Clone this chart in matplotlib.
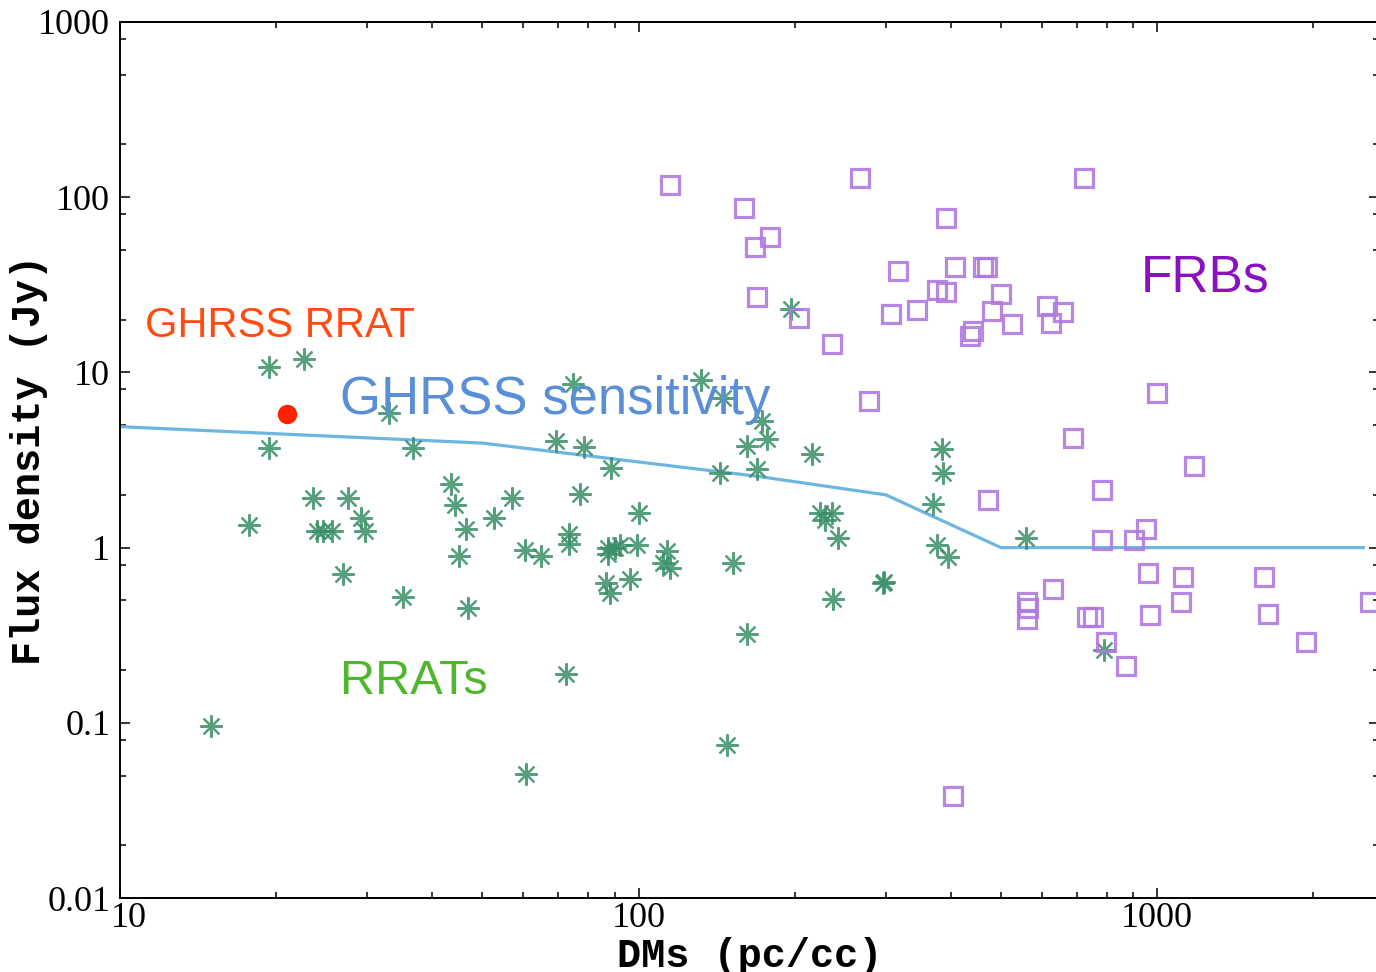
import numpy as np
import matplotlib
matplotlib.use("Agg")
import matplotlib.pyplot as plt
import matplotlib.transforms as mtransforms
from matplotlib.ticker import LogLocator, NullFormatter, FixedLocator, FixedFormatter

# RRATs: DM (pc/cc) and peak flux density (Jy)
rrat_dm = [15.0, 17.7, 19.4, 22.6, 19.4, 23.6, 27.5, 24.0, 24.6, 25.6,
           29.2, 29.7, 26.9, 33.0, 35.1, 36.7, 43.5, 44.3, 46.5, 45.1,
           46.9, 52.6, 57.0, 60.4, 60.7, 64.9, 69.3, 72.5, 73.5, 73.5,
           74.8, 77.1, 78.5, 86.6, 87.3, 87.3, 88.1, 88.5, 90.1, 92.1,
           96.3, 99.3, 100.2, 111.5, 113.5, 115.0, 132, 143.6, 145.6, 148,
           152, 162, 162, 169, 173, 177, 197, 216, 224, 229,
           236, 237, 243, 296, 298, 370, 376, 385, 387, 395,
           559, 790]
rrat_s = [0.096, 1.34, 10.8, 12.0, 3.72, 1.93, 1.93, 1.25, 1.25, 1.25,
          1.48, 1.25, 0.71, 5.9, 0.52, 3.72, 2.32, 1.74, 1.27, 0.89,
          0.45, 1.48, 1.93, 0.97, 0.051, 0.89, 4.08, 0.19, 1.20, 1.05,
          8.6, 2.03, 3.77, 0.63, 1.0, 0.92, 0.55, 2.86, 0.99, 1.03,
          0.66, 1.03, 1.58, 0.82, 0.96, 0.76, 9.1, 2.68, 7.1, 0.075,
          0.82, 3.82, 0.32, 2.82, 5.3, 4.19, 23.1, 3.44, 1.58, 1.44,
          1.58, 0.51, 1.14, 0.63, 0.64, 1.78, 1.03, 3.67, 2.65, 0.88,
          1.13, 0.26]

# FRBs
frb_dm = [115, 267, 723, 160, 392, 179, 168, 317, 408, 462,
          470, 169, 204, 236, 307, 344, 376, 392, 500, 481,
          525, 436, 442, 613, 625, 659, 278, 689, 1000, 1179,
          783, 472, 783, 903, 952, 961, 1122, 1608, 630, 561,
          564, 561, 733, 753, 970, 1112, 1637, 2575, 797, 871,
          1939, 404]
frb_s = [118, 128, 128, 87, 76, 59, 52, 38, 40, 40,
         40, 27, 20.5, 14.6, 21.4, 22.8, 29.7, 28.9, 28.2, 22.5,
         19.0, 16.2, 17.3, 24.0, 19.2, 22.0, 6.9, 4.25, 7.6, 2.94,
         2.14, 1.88, 1.11, 1.11, 1.27, 0.72, 0.68, 0.68, 0.58, 0.49,
         0.45, 0.39, 0.40, 0.40, 0.41, 0.49, 0.42, 0.49, 0.29, 0.21,
         0.29, 0.038]

# GHRSS RRAT
ghrss_dm = [21.0]
ghrss_s = [5.8]

# GHRSS sensitivity curve
sens_dm = [10, 50, 170, 300, 500, 2500]
sens_s = [4.9, 3.95, 2.55, 2.0, 1.0, 1.0]

X_MIN, X_MAX = 10, 2680
Y_MIN, Y_MAX = 0.01, 1000

fig = plt.figure(figsize=(13.76, 9.72), dpi=100)
ax = fig.add_axes([0.0872, 0.0761, 0.915, 0.9013])

ax.plot(sens_dm, sens_s, color="#6db6e2", lw=2.3, zorder=2)

ax.plot(rrat_dm, rrat_s, linestyle="none", marker=(8, 2, 0), ms=16,
        mew=1.6, color="#3a8f68", alpha=0.85, zorder=3)

ax.plot(frb_dm, frb_s, linestyle="none", marker="s", ms=13, mew=2.3,
        mfc="none", mec="#b07ae0", alpha=0.9, zorder=4)

ax.plot(ghrss_dm, ghrss_s, linestyle="none", marker="o", ms=13,
        color="#ff2200", zorder=5)

ax.set_xscale("log")
ax.set_yscale("log")
ax.set_xlim(X_MIN, X_MAX)
ax.set_ylim(Y_MIN, Y_MAX)

ax.xaxis.set_major_locator(FixedLocator([10, 100, 1000]))
ax.xaxis.set_major_formatter(FixedFormatter(["10", "100", "1000"]))
ax.xaxis.set_minor_locator(LogLocator(base=10, subs=np.arange(2, 10)))
ax.xaxis.set_minor_formatter(NullFormatter())

ax.yaxis.set_major_locator(FixedLocator([0.01, 0.1, 1, 10, 100, 1000]))
ax.yaxis.set_major_formatter(FixedFormatter(["0.01", "0.1", "1", "10", "100", "1000"]))
ax.yaxis.set_minor_locator(LogLocator(base=10, subs=[2, 5, 8]))
ax.yaxis.set_minor_formatter(NullFormatter())

ax.tick_params(which="both", direction="in", top=True, right=True, width=1.1, color="black")
ax.tick_params(which="major", length=7)
ax.tick_params(which="minor", length=4)
ax.tick_params(axis="x", pad=3)
ax.tick_params(axis="y", pad=7)
for lab in ax.get_xticklabels() + ax.get_yticklabels():
    lab.set_fontfamily("Liberation Serif")
    lab.set_fontsize(26)

# nudge the "10" label right so it clears "0.01"
shift = mtransforms.ScaledTranslation(9 / 100, 0, fig.dpi_scale_trans)
first = ax.get_xticklabels()[0]
first.set_transform(first.get_transform() + shift)

for sp in ax.spines.values():
    sp.set_linewidth(1.4)

ax.set_xlabel("DMs (pc/cc)", fontfamily="Liberation Mono", fontweight="bold",
              fontsize=29)
ax.set_ylabel("Flux density (Jy)", fontfamily="Liberation Mono", fontweight="bold",
              fontsize=29)
ax.xaxis.set_label_coords(0.5, -0.044)
ax.yaxis.set_label_coords(-0.057, 0.5)

ax.text(11.17, 16.0, "GHRSS RRAT", color="#ff4a10", fontsize=30,
        fontfamily="Liberation Sans", va="baseline", ha="left", zorder=6)
ax.text(26.6, 5.82, "GHRSS sensitivity", color="#5a8fd8", fontsize=38,
        fontfamily="Liberation Sans", va="baseline", ha="left", zorder=6)
ax.text(26.6, 0.147, "RRATs", color="#4db82c", fontsize=35,
        fontfamily="Liberation Sans", va="baseline", ha="left", zorder=6)
ax.text(931, 28.9, "FRBs", color="#8a10c0", fontsize=37,
        fontfamily="Liberation Sans", va="baseline", ha="left", zorder=6)

fig.savefig("out.png", dpi=100)
